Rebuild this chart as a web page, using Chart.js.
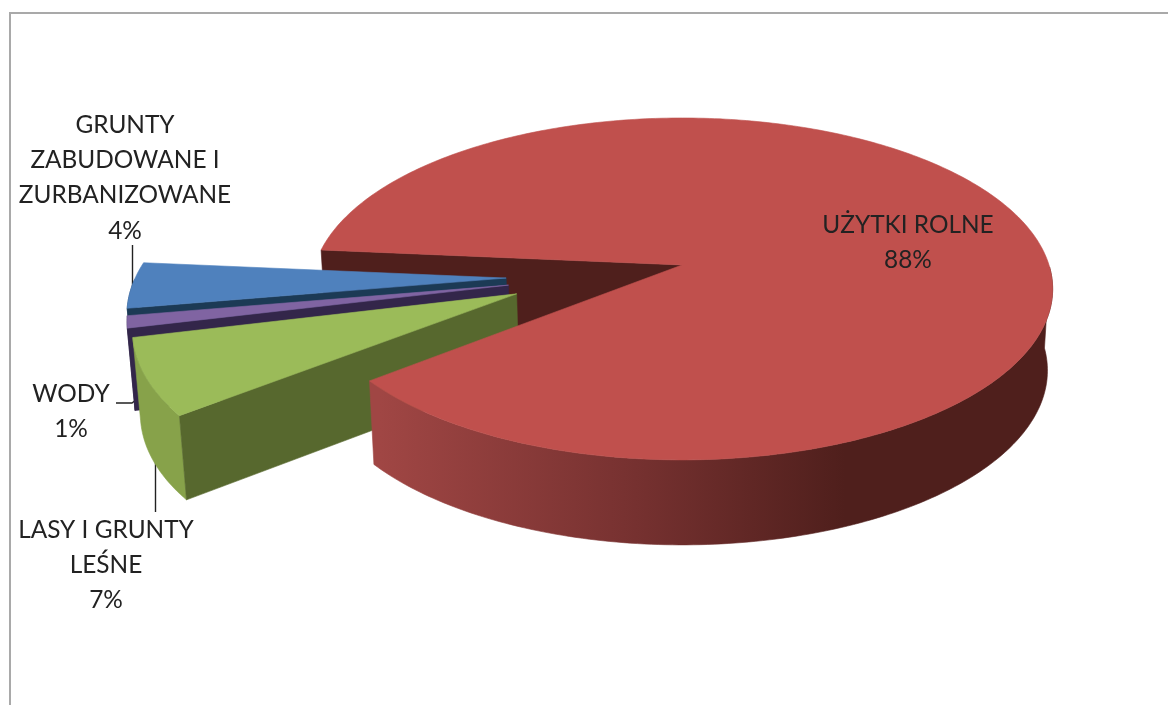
<!DOCTYPE html>
<html>
<head>
<meta charset="utf-8">
<title>Struktura gruntów</title>
<script src="https://cdn.jsdelivr.net/npm/chart.js@4/dist/chart.umd.min.js"></script>
<style>
  html, body { margin: 0; padding: 0; background: #fff; overflow: hidden; }
  #frame { position: absolute; left: 9px; top: 12px; width: 1159px; height: 693px;
           border-left: 2px solid #a9a9a9; border-top: 2px solid #a9a9a9; }
  #wykres { position: absolute; left: 0; top: 0; filter: blur(0.4px); }
</style>
</head>
<body>
<div id="frame"></div>
<canvas id="wykres" width="1168" height="705"></canvas>
<script>
// dane wykresu
var categories = ["UŻYTKI ROLNE", "LASY I GRUNTY LEŚNE", "WODY", "GRUNTY ZABUDOWANE I ZURBANIZOWANE"];
var values = [87.7, 7.0, 1.1, 4.2];
var labelLines = [
  ["UŻYTKI ROLNE"],
  ["LASY I GRUNTY", "LEŚNE"],
  ["WODY"],
  ["GRUNTY", "ZABUDOWANE I", "ZURBANIZOWANE"]
];

// kolory: wierzch, sciana zewnetrzna, sciana ciecia
var topColors = ["#c0504d", "#9bbb59", "#8064a2", "#4f81bd"];
var wallColors = ["#4f1f1c", "#87a24a", "#33264a", "#2f4f73"];
var cutColors = ["#4f1f1c", "#57682e", "#33264a", "#1c3a55"];

// wysuniecie kawalkow w jednostkach promienia [u, v]
var explode = [[0, 0], [-0.44, 0.168], [-0.465, 0.118], [-0.474, 0.077]];

// polozenie napisow (srodek, pierwsza linia)
var labelPos = [[908, 225], [106, 530], [71, 394], [125, 125]];
var lineGap = 35.3;
var leaders = [
  [[132.5, 245], [132.5, 290]],
  [[155.5, 460], [155.5, 512]],
  [[116, 403], [132, 403], [137, 399]]
];

var TILT = 0.4567;    // splaszczenie elipsy
var PERSP = 0.14;     // perspektywa
var DEPTH = 81;       // grubosc
var DEPTH_P = 4;      // przyrost grubosci z przodu
var SHRINK = 0.986;   // dolna podstawa jest troche wezsza

function project(el, u, v, down) {
  var w = 1 - PERSP * v;
  var r = el.outerRadius;
  return {
    x: el.x + r * u / w * (down ? SHRINK : 1),
    y: el.y + r * TILT * v / w + (down ? DEPTH + DEPTH_P * v : 0)
  };
}

function arcPoints(el, i) {
  var pts = [];
  var a0 = el.startAngle, a1 = el.endAngle;
  var n = Math.max(4, Math.ceil((a1 - a0) * 60));
  for (var k = 0; k <= n; k++) {
    var a = a0 + (a1 - a0) * k / n;
    pts.push([explode[i][0] + Math.cos(a), explode[i][1] + Math.sin(a), a]);
  }
  return pts;
}

function fillPoly(ctx, pts, color) {
  ctx.beginPath();
  pts.forEach(function (p, k) {
    if (k === 0) ctx.moveTo(p.x, p.y); else ctx.lineTo(p.x, p.y);
  });
  ctx.closePath();
  ctx.fillStyle = color;
  ctx.fill();
  ctx.strokeStyle = color;
  ctx.lineWidth = 0.6;
  ctx.stroke();
}

function drawCut(ctx, el, i) {
  var e = explode[i];
  var c = [e[0] + Math.cos(el.startAngle), e[1] + Math.sin(el.startAngle)];
  fillPoly(ctx, [
    project(el, e[0], e[1]), project(el, c[0], c[1]),
    project(el, c[0], c[1], true), project(el, e[0], e[1], true)
  ], cutColors[i]);
}

// tylko przednia polowa luku jest widoczna
function drawWall(ctx, el, i, color) {
  var arc = arcPoints(el, i).filter(function (p) { return Math.sin(p[2]) >= 0; });
  if (arc.length < 2) return;
  var upper = arc.map(function (p) { return project(el, p[0], p[1]); });
  var lower = arc.map(function (p) { return project(el, p[0], p[1], true); }).reverse();
  fillPoly(ctx, upper.concat(lower), color);
}

function drawTop(ctx, el, i) {
  var e = explode[i];
  var arc = arcPoints(el, i).map(function (p) { return project(el, p[0], p[1]); });
  fillPoly(ctx, [project(el, e[0], e[1])].concat(arc), topColors[i]);
}

// wykres kolowy 3D z elementow wyliczonych przez Chart.js
var pie3d = {
  id: "pie3d",
  beforeDatasetsDraw: function (chart) {
    var ctx = chart.ctx;
    var arcs = chart.getDatasetMeta(0).data;

    ctx.save();
    ctx.strokeStyle = "#222";
    ctx.lineWidth = 1.4;
    leaders.forEach(function (line) {
      ctx.beginPath();
      line.forEach(function (p, k) {
        if (k === 0) ctx.moveTo(p[0], p[1]); else ctx.lineTo(p[0], p[1]);
      });
      ctx.stroke();
    });

    drawCut(ctx, arcs[0], 0);
    [3, 2, 1].forEach(function (i) {
      drawWall(ctx, arcs[i], i, wallColors[i]);
      drawCut(ctx, arcs[i], i);
      drawTop(ctx, arcs[i], i);
    });

    var grad = ctx.createLinearGradient(380, 0, 845, 0);
    grad.addColorStop(0, "#a04644");
    grad.addColorStop(0.55, "#763130");
    grad.addColorStop(1, "#4f1f1c");
    drawWall(ctx, arcs[0], 0, grad);
    drawTop(ctx, arcs[0], 0);
    ctx.restore();
    return false;
  },
  afterDraw: function (chart) {
    var ctx = chart.ctx;
    ctx.save();
    ctx.font = '24.4px Lato';
    ctx.fillStyle = "#222";
    ctx.textAlign = "center";
    ctx.textBaseline = "middle";
    labelLines.forEach(function (lines, i) {
      var all = lines.concat([Math.round(values[i]) + "%"]);
      all.forEach(function (t, k) {
        ctx.fillText(t, labelPos[i][0], labelPos[i][1] + k * lineGap);
      });
    });
    ctx.restore();
  }
};

var myPie = new Chart(document.getElementById("wykres"), {
  type: "pie",
  data: {
    labels: categories,
    datasets: [{ data: values, backgroundColor: topColors, borderWidth: 0 }]
  },
  options: {
    responsive: false,
    animation: false,
    events: [],
    rotation: 275.2,
    radius: 367,
    layout: { padding: { left: 196, top: 0, right: 0, bottom: 175 } },
    plugins: { legend: { display: false }, tooltip: { enabled: false } }
  },
  plugins: [pie3d]
});
</script>
</body>
</html>
